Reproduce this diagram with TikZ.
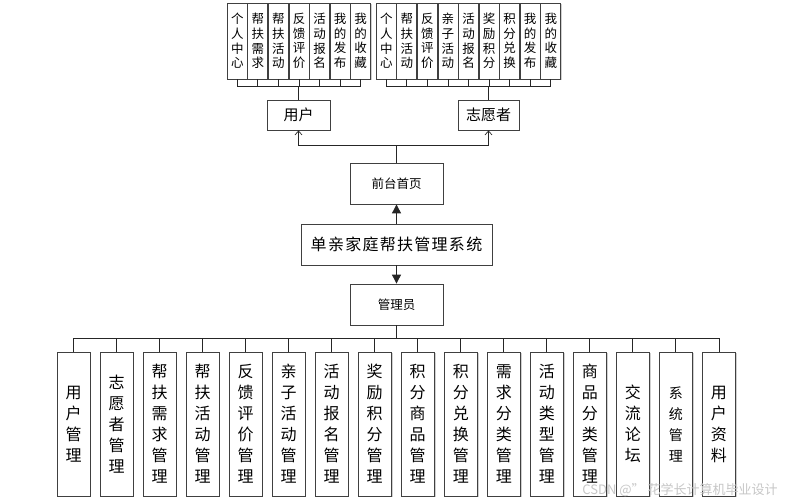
\documentclass[tikz,border=0pt]{standalone}
\usepackage{fontspec}
\setmainfont{Noto Sans CJK SC}
\newfontfamily\titlefont[LetterSpace=8]{Noto Sans CJK SC}
\usetikzlibrary{arrows.meta,shadows}
\begin{document}
\begin{tikzpicture}[x=1pt,y=-1pt,
  box/.style={draw=black!75, line width=0.8pt, fill=white, inner sep=0pt, align=center,
    drop shadow={shadow xshift=1.3pt, shadow yshift=-1.3pt, opacity=0.3, fill=black!60}},
  tbox/.style={box, minimum width=20pt, minimum height=76pt, font=\fontsize{12.5}{14.6}\selectfont},
  bbox/.style={box, minimum width=33pt, minimum height=144pt, font=\fontsize{16}{21}\selectfont},
  sbox/.style={box, minimum width=33pt, minimum height=144pt, font=\fontsize{14}{21}\selectfont},
  conn/.style={draw=black!85, line width=0.9pt},
  barb/.style={conn, -{Straight Barb[length=4pt,width=7pt,line width=0.7pt]}},
  tri/.style={conn, -{Triangle[length=9pt,width=9pt]}}]
\useasboundingbox (0,0) rectangle (795,501);
\fill[white] (0,0) rectangle (795,501);

% bus levels
\coordinate (busTop) at (0,86);
\coordinate (busMid) at (0,145);
\coordinate (busBot) at (0,338);

% user group
\foreach \t [count=\i] in {{个\\人\\中\\心},{帮\\扶\\需\\求},{帮\\扶\\活\\动},{反\\馈\\评\\价},{活\\动\\报\\名},{我\\的\\发\\布},{我\\的\\收\\藏}}
  \node[tbox] (u\i) at ({237.3+(\i-1)*20.57},41) {\t};
% volunteer group
\foreach \t [count=\i] in {{个\\人\\中\\心},{帮\\扶\\活\\动},{反\\馈\\评\\价},{亲\\子\\活\\动},{活\\动\\报\\名},{奖\\励\\积\\分},{积\\分\\兑\\换},{我\\的\\发\\布},{我\\的\\收\\藏}}
  \node[tbox] (v\i) at ({386.3+(\i-1)*20.56},41) {\t};

\node[box, minimum width=63pt, minimum height=30pt, font=\fontsize{15}{17}\selectfont] (user) at (298.5,115) {用户};
\node[box, minimum width=61pt, minimum height=30pt, font=\fontsize{15}{17}\selectfont] (vol) at (488.5,115) {志愿者};
\node[box, minimum width=93pt, minimum height=41pt, font=\fontsize{12.5}{14}\selectfont] (front) at (396.5,183.5) {前台首页};
\node[box, minimum width=191pt, minimum height=41pt, font=\titlefont\fontsize{16}{18}\selectfont] (sys) at (396.5,244.5) {单亲家庭帮扶管理系统};
\node[box, minimum width=93pt, minimum height=41pt, font=\fontsize{12.5}{14}\selectfont] (admin) at (396.5,304.5) {管理员};

% bottom boxes
\foreach \t/\s [count=\i] in {{用\\户\\管\\理}/bbox,{志\\愿\\者\\管\\理}/bbox,{帮\\扶\\需\\求\\管\\理}/bbox,{帮\\扶\\活\\动\\管\\理}/bbox,{反\\馈\\评\\价\\管\\理}/bbox,{亲\\子\\活\\动\\管\\理}/bbox,{活\\动\\报\\名\\管\\理}/bbox,{奖\\励\\积\\分\\管\\理}/bbox,{积\\分\\商\\品\\管\\理}/bbox,{积\\分\\兑\\换\\管\\理}/bbox,{需\\求\\分\\类\\管\\理}/bbox,{活\\动\\类\\型\\管\\理}/bbox,{商\\品\\分\\类\\管\\理}/bbox,{交\\流\\论\\坛}/bbox,{系\\统\\管\\理}/sbox,{用\\户\\资\\料}/bbox}
  \node[\s] (b\i) at ({73.5+(\i-1)*43.03},424) {\t};

% top connectors: user group
\foreach \i in {1,...,7} \draw[conn] (u\i.south) -- (u\i.south |- busTop);
\draw[conn] (u1.south |- busTop) -- (u7.south |- busTop);
\draw[conn] (user.north) -- (user.north |- busTop);
% volunteer group
\foreach \i in {1,...,9} \draw[conn] (v\i.south) -- (v\i.south |- busTop);
\draw[conn] (v1.south |- busTop) -- (v9.south |- busTop);
\draw[conn] (vol.north) -- (vol.north |- busTop);

% front page to user / volunteer
\draw[conn] (front.north) -- (front.north |- busMid);
\draw[barb] (front.north |- busMid) -| (user.south);
\draw[barb] (front.north |- busMid) -| (vol.south);

% system arrows
\draw[tri] (sys.north) -- (front.south);
\draw[tri] (sys.south) -- (admin.north);

% bottom bus
\draw[conn] (admin.south) -- (admin.south |- busBot);
\draw[conn] (b1.north |- busBot) -- (b16.north |- busBot);
\foreach \i in {1,...,16} \draw[conn] (b\i.north |- busBot) -- (b\i.north);

% watermark
\node[text=black!22, font=\fontsize{13}{15}\selectfont, inner sep=0pt] (wm) at (680,490) {CSDN @” 花学长计算机毕业设计};
\end{tikzpicture}
\end{document}
